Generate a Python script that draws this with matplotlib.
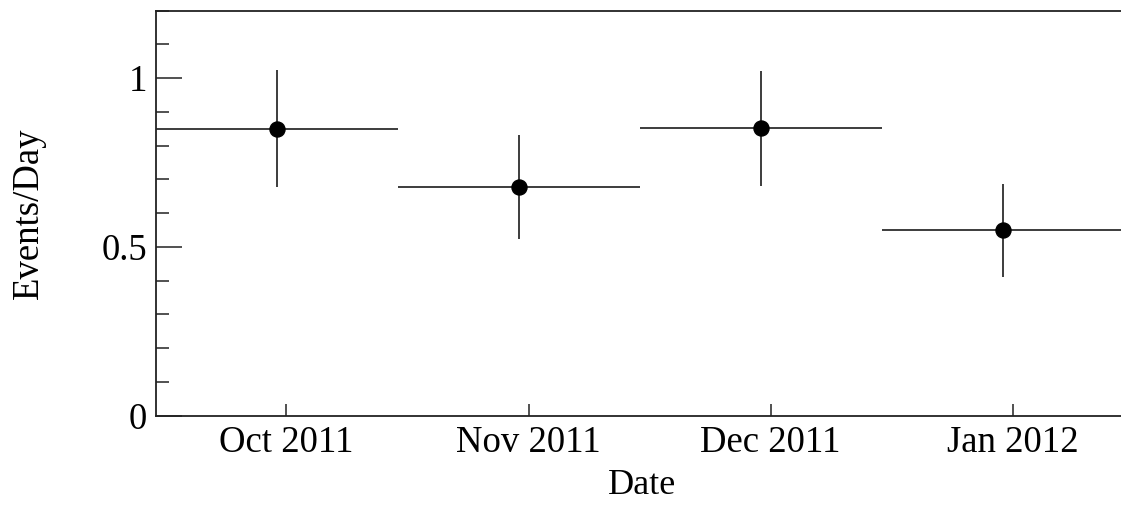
import numpy as np
import matplotlib
matplotlib.use('Agg')
import matplotlib.pyplot as plt
from matplotlib.ticker import MultipleLocator, FixedLocator

plt.rcParams['font.family'] = ['Liberation Serif', 'DejaVu Serif']

# bins of 30 days, x in days from the start of the first bin
bin_edges = [0, 30, 60, 90, 120]
rate = [0.850, 0.677, 0.851, 0.549]          # events / day
rate_err = [0.173, 0.155, 0.171, 0.138]

month_pos = [16.2, 46.2, 76.2, 106.2]
month_labels = ['Oct 2011', 'Nov 2011', 'Dec 2011', 'Jan 2012']

edges = np.array(bin_edges, dtype=float)
centers = 0.5 * (edges[1:] + edges[:-1])
half_w = 0.5 * (edges[1:] - edges[:-1])

fig = plt.figure(figsize=(11.21, 5.05), dpi=100)
# right side of the frame runs off the canvas
ax = fig.add_axes([0.1389, 0.1772, 0.8674, 0.8016])

ax.errorbar(centers, rate, xerr=half_w, yerr=rate_err, fmt='o',
            color='black', ecolor='#3c3c3c', elinewidth=1.4,
            markersize=10.8, capsize=0)

ax.set_xlim(0, 120.5)
ax.set_ylim(0, 1.2)

ax.yaxis.set_major_locator(FixedLocator([0, 0.5, 1]))
ax.yaxis.set_minor_locator(MultipleLocator(0.1))
ax.set_yticklabels(['0', '0.5', '1'])
ax.set_xticks(month_pos)
ax.set_xticklabels(month_labels)

ax.tick_params(axis='y', which='major', direction='in', length=18.7,
               width=1.1, labelsize=26.5, pad=6, color='#222222')
ax.tick_params(axis='y', which='minor', direction='in', length=9.4,
               width=1.1, color='#222222')
ax.tick_params(axis='x', which='major', direction='in', length=9,
               width=1.1, labelsize=26.5, pad=7, color='#222222')

for side in ['left', 'bottom', 'top', 'right']:
    ax.spines[side].set_linewidth(1.3)
    ax.spines[side].set_color('#222222')

ax.set_xlabel('Date', fontsize=26, labelpad=6.5)
ax.set_ylabel('Events/Day', fontsize=26.5, labelpad=40)

fig.savefig('out.png', dpi=100)
